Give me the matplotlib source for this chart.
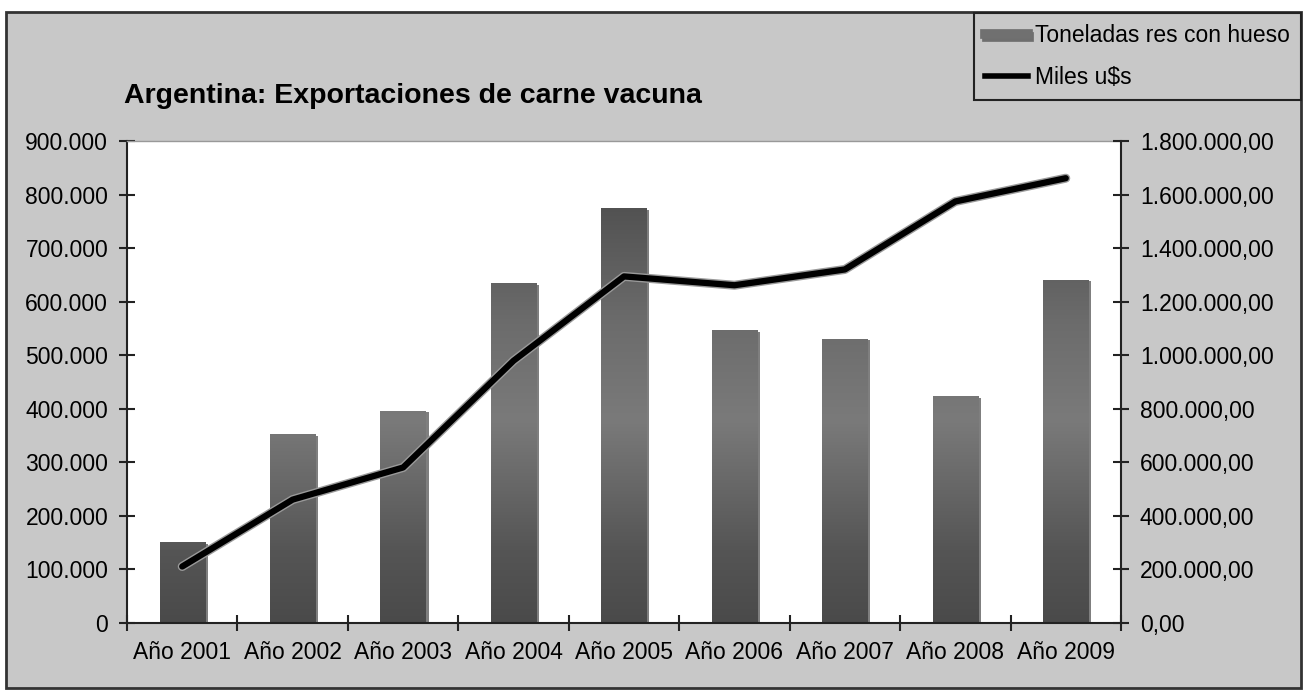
"""
Argentina beef exports chart: bars for tonnage, line for thousands of US$.
"""

import numpy as np
import matplotlib
matplotlib.use("Agg")
import matplotlib.pyplot as plt
import matplotlib.patheffects as pe
from matplotlib.patches import Rectangle
from matplotlib.lines import Line2D
from matplotlib.colors import LinearSegmentedColormap
from matplotlib.ticker import FuncFormatter, MultipleLocator

years = ["Año 2001", "Año 2002", "Año 2003", "Año 2004", "Año 2005",
         "Año 2006", "Año 2007", "Año 2008", "Año 2009"]
toneladas = [150000, 352000, 396000, 634000, 774000, 546000, 530000, 423000, 641000]
miles_usd = [210000, 460000, 580000, 979000, 1294000, 1261000, 1320000, 1574000, 1661000]

title = "Argentina: Exportaciones de carne vacuna"
label_bars = "Toneladas res con hueso"
label_line = r"Miles u\$s"

plt.rcParams["font.family"] = ["Liberation Sans", "DejaVu Sans"]
plt.rcParams["font.size"] = 16.5

W, H = 1303, 690
fig = plt.figure(figsize=(W / 100, H / 100), dpi=100)
fig.patch.set_facecolor("white")

# grey chart frame
frame = Rectangle((6 / W, 2 / H), 1295 / W, 676 / H, transform=fig.transFigure,
                  facecolor="#c8c8c8", edgecolor="#333333", linewidth=2, zorder=-10)
fig.add_artist(frame)

ax = fig.add_axes([127 / W, 1 - 622.7 / H, 994 / W, 481.7 / H])
ax.set_facecolor("white")

x = np.arange(len(years))
bars = ax.bar(x, toneladas, width=0.41, color="#666666", zorder=2,
              path_effects=[pe.SimplePatchShadow(offset=(2, -1), shadow_rgbFace="#000000", alpha=0.5),
                            pe.Normal()])

# vertical grey gradient inside the bars
cmap = LinearSegmentedColormap.from_list(
    "bargrad", [(0.0, "#4a4a4a"), (0.15, "#555555"), (0.42, "#7a7a7a"),
                (0.62, "#6c6c6c"), (0.9, "#4e4e4e"), (1.0, "#4a4a4a")])
grad = np.linspace(0, 1, 256).reshape(-1, 1)
for b in bars:
    im = ax.imshow(grad, extent=(b.get_x(), b.get_x() + b.get_width(), 0, 900000),
                   origin="lower", cmap=cmap, aspect="auto", zorder=2.1)
    im.set_clip_path(b)

ax.set_xlim(-0.5, len(years) - 0.5)
ax.set_ylim(0, 900000)
ax.yaxis.set_major_locator(MultipleLocator(100000))
ax.yaxis.set_major_formatter(FuncFormatter(lambda v, p: f"{int(v):,}".replace(",", ".")))

ax.set_xticks(x)
ax.set_xticklabels(years)
ax.set_xticks(np.arange(-0.5, len(years), 1), minor=True)
ax.tick_params(axis="x", which="major", length=0, pad=13)
ax.tick_params(axis="x", which="minor", direction="inout", length=11, width=1.5, color="#222222")
ax.tick_params(axis="y", direction="inout", length=11, width=1.5, color="#222222", pad=8)

for s in ["left", "bottom"]:
    ax.spines[s].set_color("#222222")
    ax.spines[s].set_linewidth(1.5)
ax.spines["top"].set_color("#999999")
ax.spines["top"].set_linewidth(1)
ax.spines["right"].set_visible(False)

ax2 = ax.twinx()
ax2.plot(x, miles_usd, color="black", linewidth=4.5, solid_joinstyle="round",
         solid_capstyle="round", zorder=5,
         path_effects=[pe.Stroke(linewidth=6.5, foreground="#9a9a9a"), pe.Normal()])
ax2.set_ylim(0, 1800000)
ax2.yaxis.set_major_locator(MultipleLocator(200000))

def fmt_right(v, p):
    s = f"{v:,.2f}"
    return s.replace(",", "X").replace(".", ",").replace("X", ".")

ax2.yaxis.set_major_formatter(FuncFormatter(fmt_right))
ax2.tick_params(axis="y", direction="inout", length=11, width=1.5, color="#222222", pad=8)
for s in ["left", "bottom", "top"]:
    ax2.spines[s].set_visible(False)
ax2.spines["right"].set_color("#222222")
ax2.spines["right"].set_linewidth(1.5)

fig.text(124 / W, 1 - 96 / H, title, fontweight="bold", fontsize=20.5, va="center")

handles = [
    Line2D([], [], color="#707070", linewidth=7,
           path_effects=[pe.SimpleLineShadow(offset=(1, -1.5), shadow_color="#333333", alpha=0.6),
                         pe.Normal()]),
    Line2D([], [], color="black", linewidth=4),
]
leg = fig.legend(handles, [label_bars, label_line], loc="upper right",
                 bbox_to_anchor=(1301 / W, 1 - 13 / H), frameon=True, fancybox=False,
                 facecolor="#c8c8c8", edgecolor="#222222", framealpha=1,
                 handlelength=1.85, handletextpad=0.3, labelspacing=0.8,
                 borderpad=0.5, borderaxespad=0)
leg.get_frame().set_linewidth(1.5)

fig.savefig("out.png", dpi=100)
